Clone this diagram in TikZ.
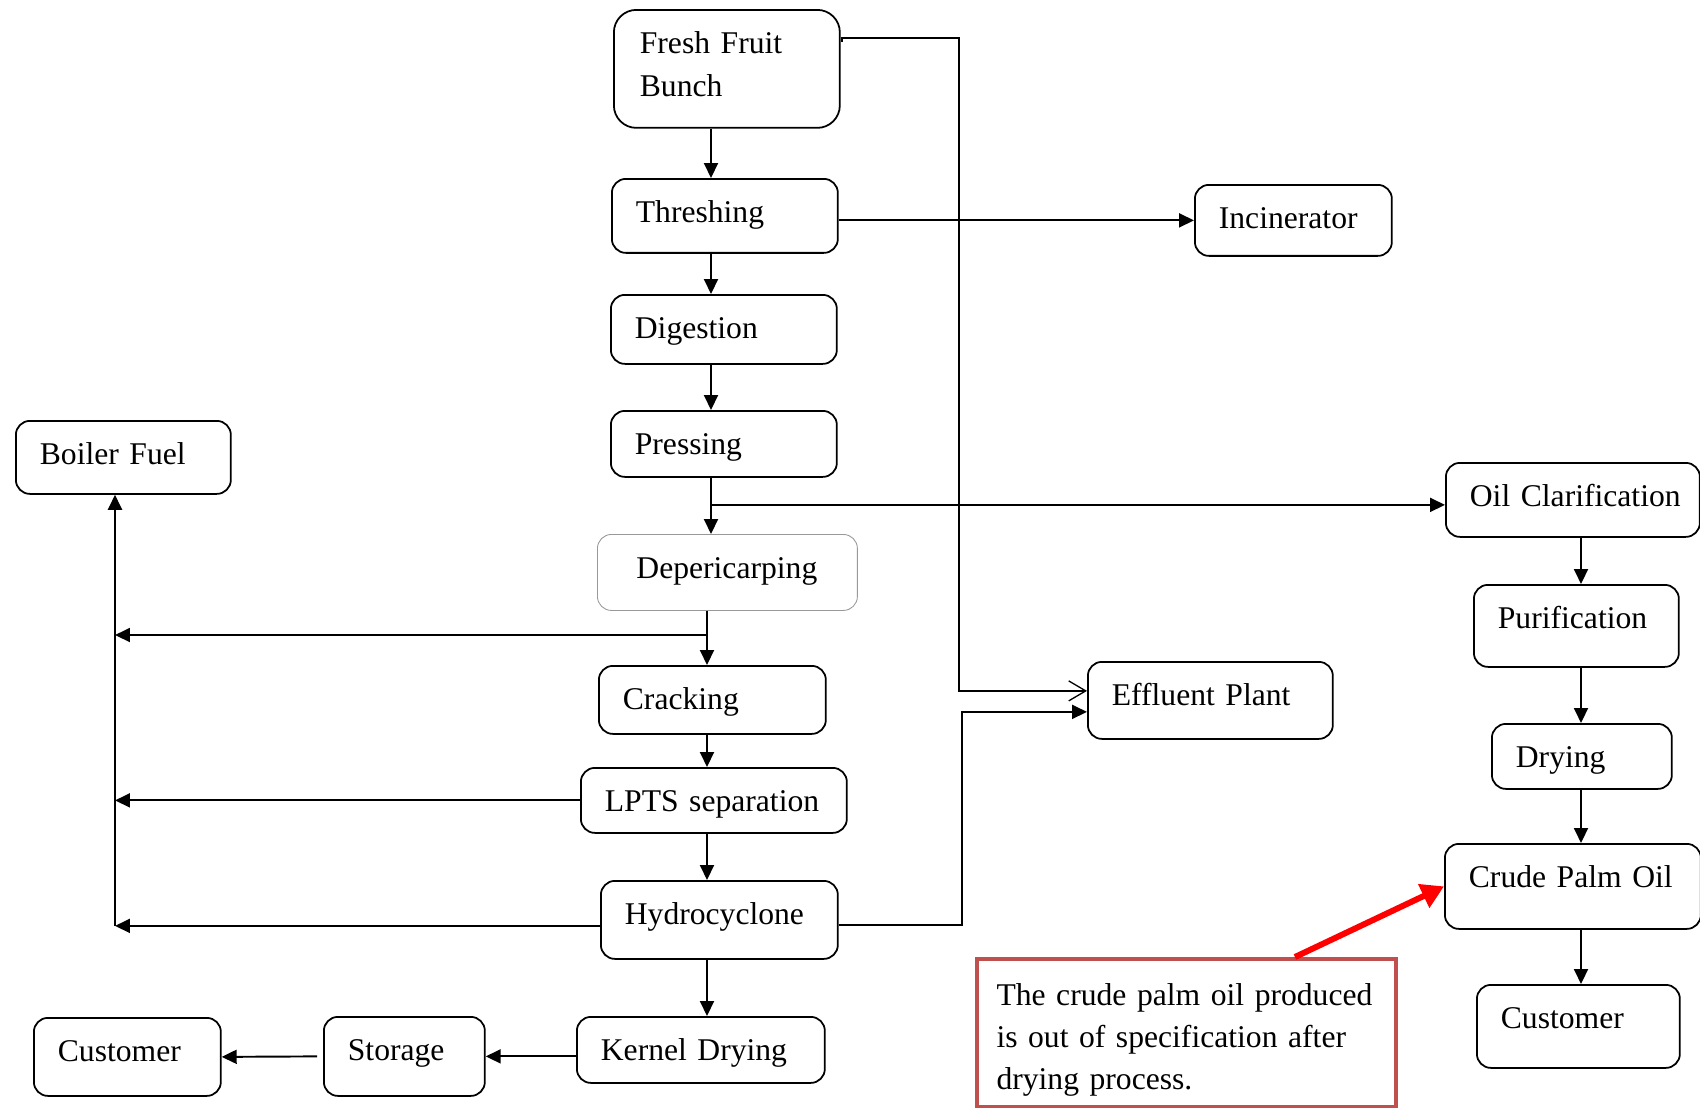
\documentclass[tikz,border=0pt]{standalone}
\usepackage{fontspec}
\setmainfont{Liberation Serif}
\usetikzlibrary{arrows.meta}
\definecolor{noteedge}{HTML}{C0504D}
\hyphenpenalty=10000
\exhyphenpenalty=10000

\begin{document}
\begin{tikzpicture}[x=0.02cm, y=-0.02cm, >={Triangle[length=0.3cm,width=0.28cm]},
  stage/.style={draw, line width=1pt, rounded corners=0.28cm, anchor=north west,
    inner xsep=0.48cm, inner ysep=0pt, align=left, text height=0.88cm,
    font=\fontsize{18}{24}\selectfont},
  flow/.style={->, line width=1.1pt}]
\useasboundingbox (0,0) rectangle (1700,1107);

% kernel line
\node[stage, text width=3.48cm, text depth=1.48cm, inner xsep=0.52cm, rounded corners=0.45cm] (ffb) at (613,9) {Fresh Fruit\\Bunch};
\node[stage, text width=3.56cm, text depth=0.60cm] (thresh) at (611,178) {Threshing};
\node[stage, text width=3.56cm, text depth=0.50cm] (digest) at (610,294) {Digestion};
\node[stage, text width=3.56cm, text depth=0.44cm] (press) at (610,410) {Pressing};
\node[stage, draw=gray!80, line width=0.5pt, text width=3.64cm, text depth=0.64cm, inner xsep=0.78cm] (deperi) at (597,534) {Depericarping};
\node[stage, text width=3.58cm, text depth=0.48cm] (crack) at (598,665) {Cracking};
\node[stage, text width=4.36cm, text depth=0.42cm] (lpts) at (580,767) {LPTS~separation};
\node[stage, text width=3.78cm, text depth=0.68cm] (hydro) at (600,880) {Hydrocyclone};
\node[stage, text width=4.00cm, text depth=0.44cm] (kernel) at (576,1016) {Kernel~Drying};
\node[stage, text width=2.26cm, text depth=0.70cm] (storage) at (323,1016) {Storage};
\node[stage, text width=2.78cm, text depth=0.68cm] (custL) at (33,1017) {Customer};
\node[stage, text width=3.34cm, text depth=0.58cm] (boiler) at (15,420) {Boiler~Fuel};

% waste
\node[stage, text width=2.98cm, text depth=0.54cm] (incin) at (1194,184) {Incinerator};
\node[stage, text width=3.94cm, text depth=0.66cm] (effl) at (1087,661) {Effluent~Plant};

% oil line
\node[stage, text width=4.12cm, text depth=0.60cm] (oilc) at (1445,462) {Oil~Clarification};
\node[stage, text width=3.14cm, text depth=0.76cm] (purif) at (1473,584) {Purification};
\node[stage, text width=2.64cm, text depth=0.42cm] (dry) at (1491,723) {Drying};
\node[stage, text width=4.16cm, text depth=0.82cm] (cpo) at (1444,843) {Crude~Palm~Oil};
\node[stage, text width=3.10cm, text depth=0.78cm] (custR) at (1476,984) {Customer};

\node[stage, draw=noteedge, line width=2.3pt, sharp corners, text width=7.6cm, inner xsep=0.39cm, text height=0.92cm, text depth=2.04cm] (note) at (975,957) {The crude palm oil produced\\is out of specification after\\drying process.};

\coordinate (spineA) at (711,0);
\coordinate (spineB) at (707,0);
\coordinate (spineC) at (1581,0);
\coordinate (fuelx) at (115,0);
\coordinate (effx1) at (959,0);
\coordinate (effx2) at (962,0);
\coordinate (ffbout) at (842,38);
\coordinate (split) at (707,635);

\draw[flow] (ffb.south -| spineA) -- (thresh.north -| spineA);
\draw[flow] (thresh.south -| spineA) -- (digest.north -| spineA);
\draw[flow] (digest.south -| spineA) -- (press.north -| spineA);
\draw[flow] (press.south -| spineA) -- (deperi.north -| spineA);
\draw[flow] ([yshift=-0.1cm]spineA |- oilc.west) -- ([yshift=-0.1cm]oilc.west);
\draw[flow] (thresh.east |- incin.west) -- (incin.west);
\draw[line width=0.75pt, -{Straight Barb[length=0.34cm,width=0.4cm]}] ([yshift=-0.08cm]ffbout) -- (ffbout) -- (ffbout -| effx1) |- ([yshift=0.19cm]effl.west);

\draw[flow] (deperi.south -| spineB) -- (crack.north -| spineB);
\draw[flow] (split) -- (split -| fuelx);
\draw[flow] (crack.south -| spineB) -- (lpts.north -| spineB);
\draw[flow] (lpts.west) -- (lpts.west -| fuelx);
\draw[flow] (lpts.south -| spineB) -- (hydro.north -| spineB);
\draw[flow] ([yshift=-0.12cm]hydro.west) -- ([yshift=-0.12cm]hydro.west -| fuelx);
\draw[flow] ([yshift=-0.12cm]hydro.west -| fuelx) -- (boiler.south -| fuelx);
\draw[flow] ([yshift=-0.1cm]hydro.east) -- ([yshift=-0.1cm]hydro.east -| effx2) |- ([yshift=-0.23cm]effl.west);
\draw[flow] (hydro.south -| spineB) -- (kernel.north -| spineB);
\draw[flow] (kernel.west |- storage.east) -- (storage.east);
\draw[flow] ([xshift=-0.12cm]storage.west) -- (custL.east);

\draw[flow] (oilc.south -| spineC) -- (purif.north -| spineC);
\draw[flow] (purif.south -| spineC) -- (dry.north -| spineC);
\draw[flow] (dry.south -| spineC) -- (cpo.north -| spineC);
\draw[flow] (cpo.south -| spineC) -- (custR.north -| spineC);

\draw[red, line width=3.4pt, -{Triangle[length=0.45cm,width=0.5cm]}] ([xshift=2.17cm]note.north) -- (cpo.west);
\end{tikzpicture}
\end{document}
